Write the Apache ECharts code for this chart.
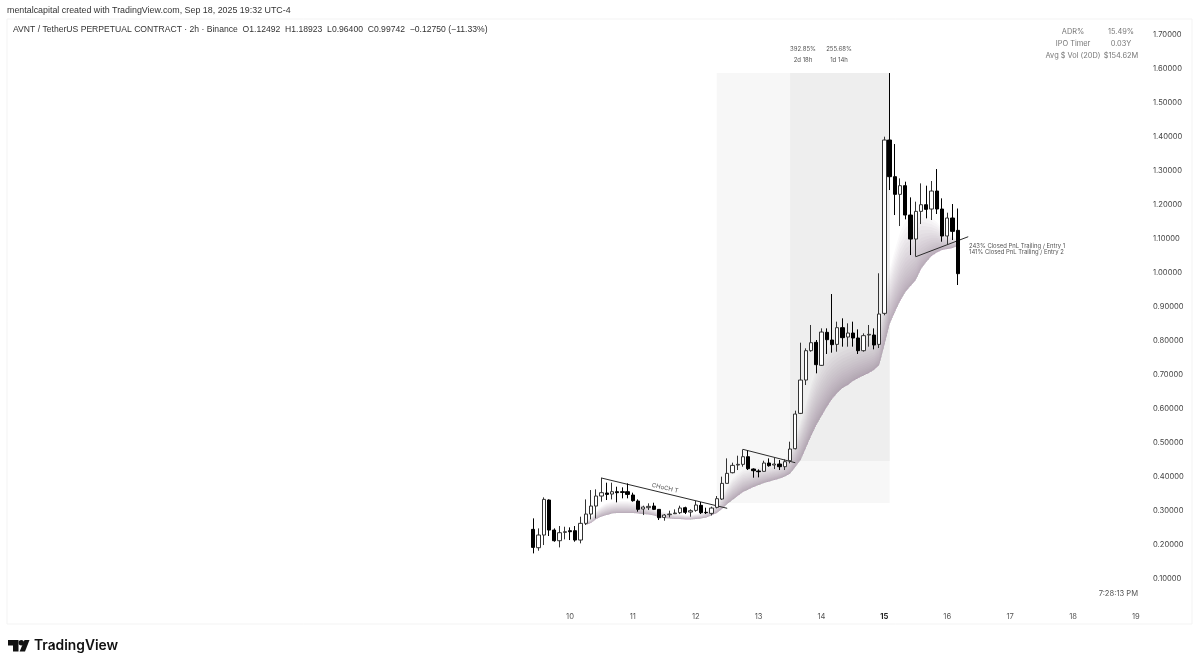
<!DOCTYPE html>
<html>
<head>
<meta charset="utf-8">
<title>AVNT / TetherUS</title>
<script src="https://cdn.jsdelivr.net/npm/echarts@6/dist/echarts.min.js"></script>
<style>
  html, body { margin: 0; padding: 0; background: #fff; }
  #chart { width: 1200px; height: 667px; }
</style>
</head>
<body>
<div id="chart"></div>
<script>
'use strict';
// 2h bars. firstBar / ribbonFirstBar are counted from Sep 10 00:00
var firstBar = -7;
var ribbonFirstBar = 3;
var dayTicks = [10, 11, 12, 13, 14, 15, 16, 17, 18, 19];
var priceTicks = ['0.10000', '0.20000', '0.30000', '0.40000', '0.50000', '0.60000', '0.70000', '0.80000', '0.90000',
    '1.00000', '1.10000', '1.20000', '1.30000', '1.40000', '1.50000', '1.60000', '1.70000'];

var opens = [.2447, .1907, .2280, .3311, .2427, .2113, .2359, .2408, .2408, .2133, .2624, .2898, .3134,
    .3428, .3517, .3487, .3556, .3556, .3556, .3458, .3281, .3046, .3085, .3134, .3036, .2800, .2879, .2908,
    .2938, .3085, .2957, .3006, .3154, .2948, .2918, .3095, .3340, .3801, .4115,
    .4341, .4361, .4586, .4223, .4164, .4155, .4400, .4341, .4370, .4292, .4468, .4822, .5862, .6843, .7707,
    .7952, .7275, .8247, .8021, .7893, .8384, .8109, .8227, .8080, .7707, .8168, .8168, .7893, .8806,
    1.3908, 1.2829, 1.2309, 1.2564, 1.1700, 1.0993, 1.1808, 1.2004, 1.1877, 1.2407, 1.1877, 1.1082, 1.1612, 1.12492];
var closes = [.1917, .2280, .3330, .2427, .2113, .2349, .2378, .2378, .2133, .2624, .2898, .3134, .3428,
    .3527, .3477, .3556, .3527, .3536, .3477, .3291, .3036, .3105, .3124, .3036, .2790, .2869, .2898, .2928,
    .3075, .2948, .2997, .3164, .2938, .2938, .3075, .3350, .3801, .4096, .4331,
    .4361, .4586, .4233, .4174, .4145, .4400, .4321, .4370, .4292, .4439, .4812, .5842, .6843, .7707, .7942,
    .7295, .8256, .8031, .7884, .8384, .8090, .8227, .8080, .7707, .8149, .8188, .7874, .8786, 1.3908,
    1.2829, 1.2309, 1.2564, 1.1700, 1.0993, 1.1808, 1.2004, 1.1867, 1.2407, 1.1877, 1.1082, 1.1612, 1.1219, .99742];
var lows = [.1740, .1819, .1986, .2251, .2084, .1917, .2153, .2133, .2084, .2035, .2575, .2741, .2771,
    .3262, .3311, .3330, .3242, .3360, .3360, .3262, .2967, .2869, .3016, .3016, .2722, .2702, .2800, .2898,
    .2898, .2898, .2820, .2967, .2898, .2898, .2859, .3065, .3311, .3801, .4096,
    .4194, .4292, .4194, .3968, .3978, .4145, .4292, .4223, .4194, .4194, .4390, .4802, .5842, .6696, .7677,
    .7040, .7256, .7609, .7648, .7677, .7825, .7825, .7825, .7609, .7677, .7825, .7746, .7785, .8750,
    1.2436, 1.1700, 1.1376, 1.1573, 1.0522, 1.0473, 1.1435, 1.1602, 1.1553, 1.1730, 1.0915, 1.0817, 1.0964, .96400];
var highs = [.2771, .2476, .3389, .3330, .2476, .2545, .2525, .2506, .2545, .2820, .3330, .3605, .3625,
    .3968, .3821, .3821, .3703, .3684, .3801, .3527, .3330, .3144, .3213, .3232, .3036, .2898, .2997, .3036,
    .3144, .3115, .3036, .3282, .3252, .3085, .3115, .3428, .3998, .4537, .4410,
    .4616, .4802, .4763, .4243, .4213, .4468, .4537, .4557, .4488, .4508, .5028, .5941, .7942, .7776, .8463,
    .8021, .8364, .8364, .9375, .8561, .8659, .8512, .8561, .8335, .8217, .8463, .8364, .9985, 1.4006,
    1.5880, 1.3790, 1.2780, 1.2682, 1.2220, 1.2093, 1.2632, 1.2564, 1.2701, 1.3054, 1.2191, 1.1769, 1.2024, 1.18923];

// lower (sharp) and upper (faded) edge of the ribbon under price
var ribbonLow = [.2575, .2634, .2752, .2825, .2869, .2914, .2928, .2928, .2928, .2928, .2914, .2899, .2884, .2855,
    .2811, .2781, .2766, .2752, .2752, .2737, .2737, .2752, .2766, .2796, .2855, .2928, .3046, .3193, .3311, .3429,
    .3547, .3620, .3694, .3753, .3812, .3856, .3900, .3944, .4003, .4091, .4283, .4489, .4842, .5195, .5519, .5784,
    .6049, .6284, .6461, .6608, .6697, .6814, .6903, .6976, .7050, .7138, .7285, .7874, .8493, .8846, .9170, .9435,
    .9612, .9788, 1.0112, 1.0318, 1.0495, 1.0597, 1.0671, 1.0700, 1.0730, 1.0789];
var ribbonHigh = [.2663, .2811, .2987, .3134, .3223, .3252, .3282, .3282, .3282, .3252, .3223, .3164, .3105, .3046,
    .2987, .2958, .2928, .2899, .2899, .2869, .2869, .2899, .2928, .2987, .3076, .3223, .3429, .3694, .3929, .4076,
    .4194, .4223, .4253, .4283, .4312, .4342, .4371, .4400, .4489, .4724, .5078, .5607, .6108, .6697, .7138, .7491,
    .7727, .7874, .7962, .8021, .8080, .8110, .8139, .8169, .8198, .8228, .8463, .9199, 1.0082, 1.0671, 1.1201, 1.1495,
    1.1613, 1.1731, 1.1790, 1.1701, 1.1613, 1.1495, 1.1318, 1.1201, 1.1083, 1.0966];

// [bar, price] ends of the three drawn trend lines
var chochLine = [[6, .3959], [30, .3067]];
var flagLine = [[33, .4803], [43, .4409]];
var exitLine = [[66, 1.0473], [76, 1.1062]];
// [first bar, last bar, top price, bottom price] of the two shaded boxes
var outerBox = [28, 61, 1.588, .3224];
var innerBox = [42, 61, 1.588, .4459];

var tableRows = ['ADR%', 'IPO Timer', 'Avg $ Vol (20D)'];
var tableValues = ['15.49%', '0.03Y', '$154.62M'];

var barsBeforeTen = 107;
var barCount = 218;
var categories = [];
var dayAtIndex = {};
for (var i = 0; i < barCount; i++) {
    var k = i - barsBeforeTen;
    var day = 10 + Math.floor(k / 12);
    var hour = (k - Math.floor(k / 12) * 12) * 2;
    categories.push('Sep ' + day + ' ' + hour + ':00');
    if (hour === 0 && dayTicks.indexOf(day) >= 0) dayAtIndex[i] = day;
}
function barIndex(k) { return k + barsBeforeTen; }

var candleRows = categories.map(function(c, idx) {
    var n = idx - barIndex(firstBar);
    if (n < 0 || n >= opens.length) return ['-', '-', '-', '-'];
    return [opens[n], closes[n], lows[n], highs[n]];
});
var ribbonRows = ribbonLow.map(function(v, n) {
    return [barIndex(ribbonFirstBar + n), v, ribbonHigh[n]];
});

function trendSeries(points) {
    return {
        type: 'line', symbol: 'none', silent: true, z: 4,
        lineStyle: { color: '#2b2b2b', width: 1 },
        data: points.map(function(p) { return [barIndex(p[0]), p[1]]; })
    };
}
function boxArea(b, color) {
    return [{ xAxis: barIndex(b[0]), yAxis: b[2], itemStyle: { color: color } }, { xAxis: barIndex(b[1]), yAxis: b[3] }];
}

// Ribbon is a pile of see-through layers, each from the lower edge up to a
// fraction of the band, so the fade bends with the curve
var ribbonLayers = 20;
function renderRibbon(params, api) {
    if (params.dataIndex !== 0) return null;
    var x0 = api.value(0);
    var children = [];
    for (var j = 1; j <= ribbonLayers; j++) {
        var f = Math.pow(j / ribbonLayers, 1.7);
        var bottom = [], top = [];
        ribbonLow.forEach(function(low, n) {
            bottom.push(api.coord([x0 + n, low]));
            top.unshift(api.coord([x0 + n, low + (ribbonHigh[n] - low) * f]));
        });
        children.push({
            type: 'polygon',
            shape: { points: bottom.concat(top) },
            style: { fill: 'rgba(130,105,130,0.042)' }
        });
    }
    return { type: 'group', children: children };
}

function text(x, y, str, size, color, align, extra, family) {
    var o = { type: 'text', x: x, y: y, z: 10, silent: true, style: {
        text: str, fontFamily: family || 'Inter', fontSize: size, fill: color, textAlign: align || 'left', textVerticalAlign: 'middle'
    } };
    if (extra) o.rotation = extra;
    return o;
}

var graphics = [
    { type: 'rect', z: -1, silent: true, shape: { x: 7, y: 19, width: 1185, height: 605 }, style: { fill: 'none', stroke: '#f3f3f3', lineWidth: 1 } },
    text(7, 11, 'mentalcapital created with TradingView.com, Sep 18, 2025 19:32 UTC-4', 8.9, '#333', 'left', 0, 'Liberation Sans'),
    text(13, 30, 'AVNT / TetherUS PERPETUAL CONTRACT \u00b7 2h \u00b7 Binance  O1.12492  H1.18923  L0.96400  C0.99742  \u22120.12750 (\u221211.33%)', 8.6, '#333', 'left', 0, 'Liberation Sans'),
    text(803, 49, '392.85%', 6, '#555', 'center'),
    text(839, 49, '255.68%', 6, '#555', 'center'),
    text(803, 60, '2d 18h', 6, '#555', 'center'),
    text(839, 60, '1d 14h', 6, '#555', 'center'),
    text(665, 488, 'CHoCH T', 6, '#555', 'center', -13 * Math.PI / 180),
    text(969, 246.7, '243% Closed PnL Trailing / Entry 1', 5.9, '#555'),
    text(969, 252.7, '141% Closed PnL Trailing / Entry 2', 5.9, '#555'),
    text(1138, 594, '7:28:13 PM', 7.6, '#555', 'right'),
    { type: 'polygon', silent: true, shape: { points: [[8, 640], [18.5, 640], [18.5, 651.5], [13, 651.5], [13, 645.5], [8, 645.5]] }, style: { fill: '#111' } },
    { type: 'circle', silent: true, shape: { cx: 21.3, cy: 642.7, r: 2.7 }, style: { fill: '#111' } },
    { type: 'polygon', silent: true, shape: { points: [[24.5, 640], [29.5, 640], [25, 651.5], [19.6, 651.5]] }, style: { fill: '#111' } },
    { type: 'text', x: 34, y: 646, silent: true, style: { text: 'TradingView', fontFamily: 'Inter', fontWeight: 600, fontSize: 13.8, fill: '#111', textVerticalAlign: 'middle' } }
];
tableRows.forEach(function(name, n) {
    graphics.push(text(1073, 32 + n * 12, name, 7.4, '#777', 'center'));
    graphics.push(text(1121, 32 + n * 12, tableValues[n], 7.4, '#777', 'center'));
});

var myChart = echarts.init(document.getElementById('chart'), null, { renderer: 'canvas' });
myChart.setOption({
    animation: false,
    backgroundColor: '#fff',
    grid: { left: 6.7, width: 1142.3, top: 18, height: 594.5 },
    xAxis: {
        type: 'category',
        data: categories,
        boundaryGap: true,
        axisLine: { show: false },
        axisTick: { show: false },
        splitLine: { show: false },
        axisLabel: {
            margin: 0,
            interval: function(index) { return dayAtIndex[index] !== undefined; },
            formatter: function(value, index) {
                var d = dayAtIndex[index];
                return d === 15 ? '{bold|15}' : String(d);
            },
            fontFamily: 'Inter', fontSize: 7.6, color: '#555',
            rich: { bold: { fontFamily: 'Inter', fontSize: 7.6, fontWeight: 700, color: '#222' } }
        }
    },
    yAxis: {
        type: 'value',
        position: 'right',
        min: 0,
        max: 1.75,
        interval: 0.1,
        axisLine: { show: false },
        axisTick: { show: false },
        splitLine: { show: false },
        axisLabel: {
            margin: 4,
            padding: [3, 0, 0, 0],
            fontFamily: 'Inter', fontSize: 7.6, color: '#444',
            showMaxLabel: false,
            formatter: function(v) {
                var s = v.toFixed(5);
                return priceTicks.indexOf(s) >= 0 ? s : '';
            }
        }
    },
    series: [
        {
            type: 'custom', z: 2, silent: true,
            renderItem: renderRibbon,
            encode: { x: 0, y: [1, 2] },
            data: ribbonRows,
            markArea: { silent: true, z: 1, data: [boxArea(outerBox, '#f7f7f7'), boxArea(innerBox, '#eeeeee')] }
        },
        trendSeries(chochLine),
        trendSeries(flagLine),
        trendSeries(exitLine),
        {
            type: 'candlestick', z: 5, silent: true,
            barWidth: 3.8,
            itemStyle: { color: '#fff', color0: '#000', borderColor: '#333', borderColor0: '#000', borderWidth: 1 },
            data: candleRows
        }
    ],
    graphic: graphics
});
</script>
</body>
</html>
